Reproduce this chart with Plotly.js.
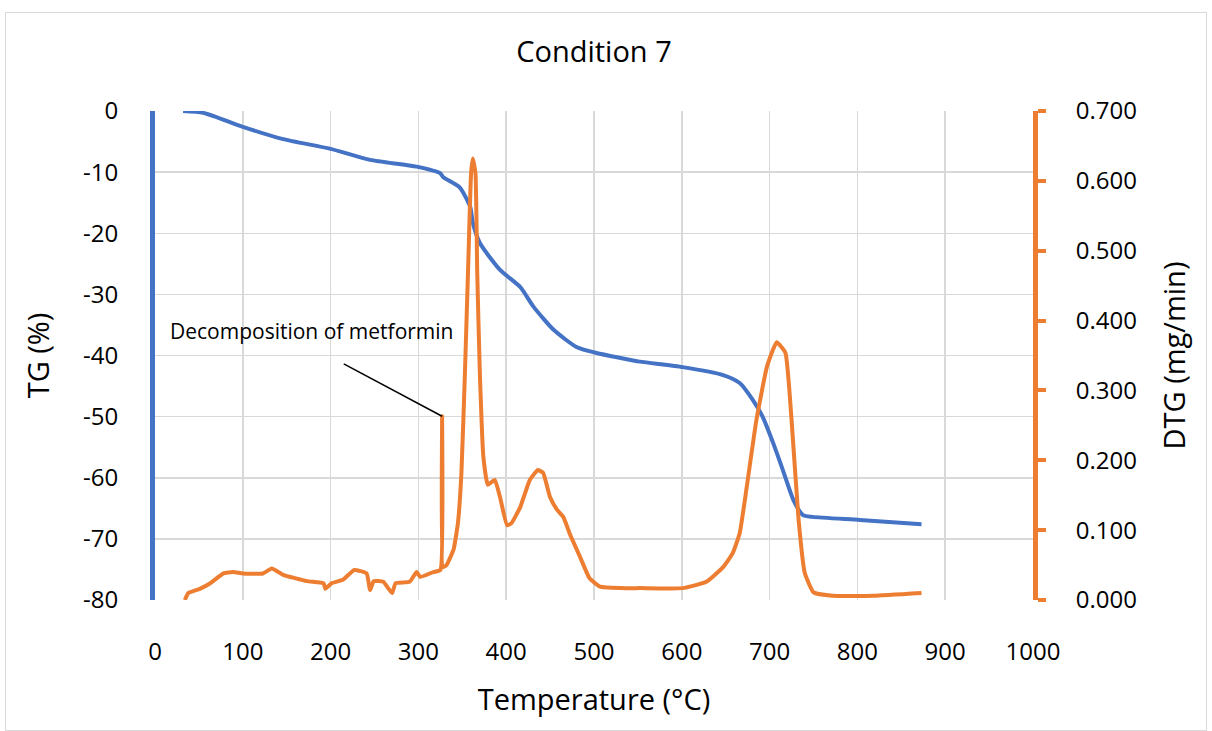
<!DOCTYPE html>
<html>
<head>
<meta charset="utf-8">
<script src="https://cdn.plot.ly/plotly-3.0.1.min.js"></script>
<style>
  html, body { margin: 0; padding: 0; background: #ffffff; }
  #frame { position: absolute; left: 5px; top: 12px; width: 1200px; height: 717px; border: 1px solid #d9d9d9; }
  #chart { position: absolute; left: 0; top: 0; width: 1212px; height: 731px; }
</style>
</head>
<body>
<div id="frame"></div>
<div id="chart"></div>
<script>
// TG (%) vs temperature (°C)
const tgTemp = [32, 55, 100, 146, 200, 245, 298, 325, 328, 347, 359, 362, 370, 393, 416, 431, 454, 480, 503, 530, 552, 601, 647, 666, 681, 692, 704, 715, 727, 738, 749, 803, 873];
const tgValue = [0, -0.3, -2.6, -4.6, -6.2, -8.0, -9.1, -10.2, -10.8, -12.5, -15.7, -18.3, -21.6, -26.0, -28.8, -32.0, -35.8, -38.6, -39.6, -40.4, -41.0, -41.9, -43.2, -44.5, -47.3, -50.0, -54.3, -58.7, -63.6, -66.1, -66.4, -66.9, -67.6];

// DTG (mg/min) vs temperature (°C)
const dtgTemp = [34, 38, 51, 63, 78, 89, 100, 123, 133, 146, 173, 192, 194, 201, 214, 227, 241, 245, 249, 260, 270, 274, 290, 298, 302, 317, 325, 327, 328, 332, 340, 345, 349, 353, 357, 360, 362, 365, 367, 370, 374, 379, 387, 393, 401, 406, 416, 427, 436, 442, 450, 458, 465, 473, 484, 495, 507, 530, 552, 601, 628, 647, 658, 666, 674, 685, 697, 708, 718, 725, 733, 740, 750, 772, 818, 873];
const dtgValue = [0.000, 0.010, 0.016, 0.024, 0.038, 0.040, 0.038, 0.038, 0.045, 0.036, 0.027, 0.024, 0.016, 0.024, 0.029, 0.043, 0.038, 0.014, 0.027, 0.026, 0.010, 0.024, 0.026, 0.040, 0.033, 0.040, 0.043, 0.263, 0.047, 0.050, 0.072, 0.110, 0.182, 0.325, 0.491, 0.611, 0.632, 0.611, 0.468, 0.325, 0.205, 0.165, 0.172, 0.147, 0.107, 0.110, 0.133, 0.172, 0.186, 0.182, 0.147, 0.129, 0.119, 0.093, 0.062, 0.031, 0.019, 0.017, 0.017, 0.017, 0.026, 0.047, 0.067, 0.096, 0.162, 0.258, 0.334, 0.369, 0.354, 0.258, 0.115, 0.039, 0.011, 0.006, 0.006, 0.010];

const xTicks = [0, 100, 200, 300, 400, 500, 600, 700, 800, 900, 1000];
const tgTicks = [0, -10, -20, -30, -40, -50, -60, -70, -80];
const dtgTicks = [0, 0.1, 0.2, 0.3, 0.4, 0.5, 0.6, 0.7];

const annotationText = 'Decomposition of metformin';
const annotationPoint = [327, 0.263];
const annotationTail = [215, 0.338];
const annotationLabel = [178, 0.385];

const FONT = 'Open Sans, Noto Sans, sans-serif';
const BLUE = '#4472C4';
const ORANGE = '#ED7D31';

const traces = [
  { x: tgTemp, y: tgValue, type: 'scatter', mode: 'lines', name: 'TG', yaxis: 'y',
    line: { color: BLUE, width: 4, shape: 'spline', smoothing: 0.6 } },
  { x: dtgTemp, y: dtgValue, type: 'scatter', mode: 'lines', name: 'DTG', yaxis: 'y2',
    line: { color: ORANGE, width: 4, shape: 'spline', smoothing: 0.4 } }
];

const layout = {
  width: 1212, height: 731,
  paper_bgcolor: 'rgba(0,0,0,0)', plot_bgcolor: 'rgba(0,0,0,0)',
  margin: { l: 155, r: 179, t: 111, b: 131 },
  showlegend: false,
  font: { family: FONT, color: '#000000', size: 24 },
  title: { text: 'Condition 7', x: 0.5, xref: 'paper', y: 1 - 52 / 731, yref: 'container', yanchor: 'middle',
    font: { family: FONT, size: 29, color: '#000000' } },
  xaxis: {
    range: [0, 1000], tickvals: xTicks, ticktext: xTicks.map(String),
    showgrid: true, gridcolor: '#d9d9d9', gridwidth: 1.5, zeroline: false, showline: false,
    ticks: '', ticklabelstandoff: 35,
    tickfont: { family: FONT, size: 24, color: '#000000' },
    title: { text: 'Temperature (°C)', standoff: 23, font: { family: FONT, size: 29, color: '#000000' } }
  },
  yaxis: {
    range: [-80, 0], tickvals: tgTicks, ticktext: tgTicks.map(String),
    showgrid: true, gridcolor: '#d9d9d9', gridwidth: 1.5, zeroline: false,
    showline: true, linecolor: BLUE, linewidth: 5,
    ticks: '', ticklabelstandoff: 27,
    tickfont: { family: FONT, size: 24, color: '#000000' },
    title: { text: 'TG (%)', standoff: 26, font: { family: FONT, size: 29, color: '#000000' } }
  },
  yaxis2: {
    range: [0, 0.7], tickvals: dtgTicks, ticktext: dtgTicks.map(v => v.toFixed(3)),
    overlaying: 'y', side: 'right', showgrid: false, zeroline: false,
    showline: true, linecolor: ORANGE, linewidth: 5,
    ticks: 'outside', ticklen: 8, tickwidth: 4, tickcolor: ORANGE, ticklabelstandoff: 25,
    tickfont: { family: FONT, size: 24, color: '#000000' },
    title: { text: 'DTG (mg/min)', standoff: 30, font: { family: FONT, size: 29, color: '#000000' } }
  },
  shapes: [
    { type: 'line', xref: 'x', yref: 'y2', x0: annotationTail[0], y0: annotationTail[1],
      x1: annotationPoint[0], y1: annotationPoint[1], line: { color: '#000000', width: 1.5 } }
  ],
  annotations: [
    { text: annotationText, xref: 'x', yref: 'y2', x: annotationLabel[0], y: annotationLabel[1],
      showarrow: false, xanchor: 'center', yanchor: 'middle',
      font: { family: FONT, size: 21, color: '#000000' } }
  ]
};

Plotly.newPlot('chart', traces, layout, { displayModeBar: false, staticPlot: true });
</script>
</body>
</html>
